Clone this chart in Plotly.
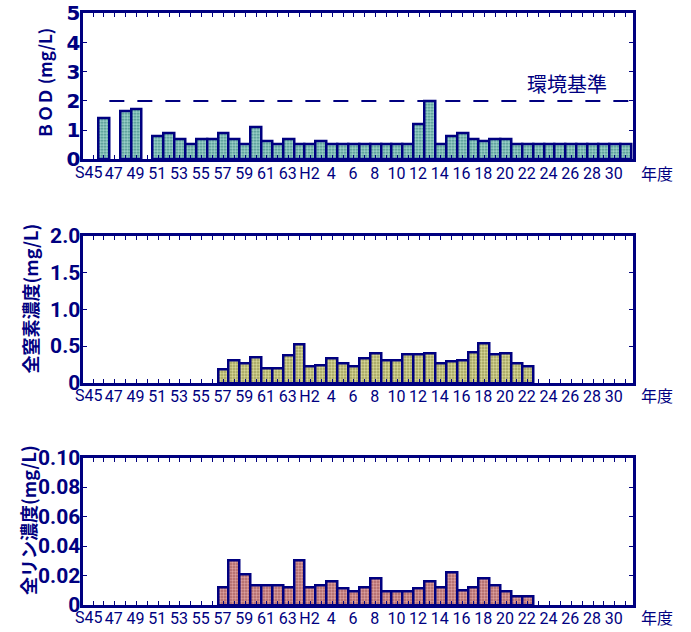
import plotly.graph_objects as go

# ---------------- data ----------------
categories = ["S45", "S46", "S47", "S48", "S49", "S50", "S51", "S52", "S53", "S54",
              "S55", "S56", "S57", "S58", "S59", "S60", "S61", "S62", "S63",
              "H1", "H2", "H3", "H4", "H5", "H6", "H7", "H8", "H9", "H10",
              "H11", "H12", "H13", "H14", "H15", "H16", "H17", "H18", "H19", "H20",
              "H21", "H22", "H23", "H24", "H25", "H26", "H27", "H28", "H29", "H30", "H31"]

first_label = "S45"
tick_text = ["", "", "47", "", "49", "", "51", "", "53", "", "55", "", "57", "", "59", "",
             "61", "", "63", "", "H2", "", "4", "", "6", "", "8", "", "10", "", "12", "",
             "14", "", "16", "", "18", "", "20", "", "22", "", "24", "", "26", "", "28", "",
             "30", ""]

bod = [None, 1.4, None, 1.65, 1.7, None, 0.8, 0.9, 0.7, 0.5,
       0.7, 0.7, 0.9, 0.7, 0.5, 1.1, 0.6, 0.5, 0.7,
       0.5, 0.5, 0.6, 0.5, 0.5, 0.5, 0.5, 0.5, 0.5, 0.5,
       0.5, 1.2, 2.0, 0.5, 0.8, 0.9, 0.7, 0.6, 0.7, 0.7,
       0.5, 0.5, 0.5, 0.5, 0.5, 0.5, 0.5, 0.5, 0.5, 0.5, 0.5]

total_n = [None] * 12 + [0.18, 0.30, 0.27, 0.35, 0.20, 0.20, 0.37,
           0.52, 0.23, 0.24, 0.33, 0.26, 0.23, 0.33, 0.40, 0.31, 0.31,
           0.38, 0.39, 0.40, 0.27, 0.29, 0.30, 0.42, 0.54, 0.38, 0.40,
           0.26, 0.23] + [None] * 9

total_p = [None] * 12 + [0.012, 0.030, 0.021, 0.013, 0.013, 0.013, 0.012,
           0.030, 0.012, 0.013, 0.016, 0.011, 0.009, 0.012, 0.018, 0.009, 0.009,
           0.009, 0.011, 0.016, 0.012, 0.022, 0.010, 0.012, 0.018, 0.013, 0.009,
           0.006, 0.006] + [None] * 9

bod_standard = 2.0

bod_ticks = [0, 1, 2, 3, 4, 5]
bod_ticktext = ["0", "1", "2", "3", "4", "5"]
n_ticks = [0, 0.5, 1.0, 1.5, 2.0]
n_ticktext = ["0", "0.5", "1.0", "1.5", "2.0"]
p_ticks = [0, 0.02, 0.04, 0.06, 0.08, 0.10]
p_ticktext = ["0", "0.02", "0.04", "0.06", "0.08", "0.10"]

# ---------------- style ----------------
W, H = 691, 632
NAVY = "#000080"
x_range = [-0.97, 49.68]


def px_x(x):
    return x / W


def px_y(y):
    return 1 - y / H


xdom = [px_x(82.5), px_x(633)]


def ydom(top, bottom):
    return [px_y(bottom), px_y(top)]


fig = go.Figure()

xfont = dict(family="Roboto", size=16, color=NAVY)
narrow_bold = dict(family="Roboto", size=21, color=NAVY, weight="bold")
panels = [
    dict(y=bod, bg="#a2d6ce", fg="#2f7f7a", yr=[0, 5], tv=bod_ticks, tt=bod_ticktext,
         dom=ydom(13.3, 159.3), label_y=172,
         font=dict(family="DejaVu Sans", size=20, color=NAVY, weight="bold")),
    dict(y=total_n, bg="#dedea0", fg="#7a7a30", yr=[0, 2.0], tv=n_ticks, tt=n_ticktext,
         dom=ydom(235.5, 383), label_y=395, font=narrow_bold),
    dict(y=total_p, bg="#e2a8a8", fg="#8a3a3a", yr=[0, 0.10], tv=p_ticks, tt=p_ticktext,
         dom=ydom(457.5, 605), label_y=617, font=narrow_bold),
]

layout_axes = {}
annotations = []
for i, p in enumerate(panels, start=1):
    sfx = "" if i == 1 else str(i)
    fig.add_trace(go.Bar(
        x=categories, y=p["y"], xaxis="x" + sfx, yaxis="y" + sfx, width=1.0,
        marker=dict(color=p["bg"], line=dict(color=NAVY, width=2.5),
                    pattern=dict(shape=".", fgcolor=p["fg"], bgcolor=p["bg"],
                                 size=3, solidity=0.35, fillmode="replace")),
        showlegend=False, hoverinfo="x+y",
    ))
    layout_axes["xaxis" + sfx] = dict(
        domain=xdom, anchor="y" + sfx, type="category", range=x_range,
        tickmode="array", tickvals=categories, ticktext=tick_text, tickangle=0,
        ticks="inside", ticklen=4, tickwidth=1, tickcolor=NAVY,
        showline=True, linecolor=NAVY, linewidth=3, mirror="ticks",
        showgrid=False, zeroline=False, automargin=False,
        ticklabelstandoff=-3, ticklabelshift=-1, ticklabeloverflow="allow",
        tickfont=xfont,
    )
    layout_axes["yaxis" + sfx] = dict(
        domain=p["dom"], anchor="x" + sfx, range=p["yr"],
        tickmode="array", tickvals=p["tv"], ticktext=p["tt"], tickangle=0,
        ticks="inside", ticklen=4, tickwidth=1, tickcolor=NAVY,
        showline=True, linecolor=NAVY, linewidth=3, mirror="ticks",
        showgrid=False, zeroline=False, automargin=False,
        ticklabelstandoff=-5, ticklabeloverflow="allow", tickfont=p["font"],
    )
    # first year label (placed slightly left, as in the original)
    annotations.append(dict(text=first_label, xref="x" + sfx, x=categories[0], xshift=-5,
                            yref="paper", y=px_y(p["label_y"]), font=xfont,
                            showarrow=False, xanchor="center", yanchor="middle"))

fig.update_layout(**layout_axes)

# environmental standard line
fig.add_shape(type="line", xref="x", yref="y", x0=1.5, x1=x_range[1],
              y0=bod_standard, y1=bod_standard,
              line=dict(color=NAVY, width=2, dash="15px,13px"))

cjk = "Noto Sans CJK JP"
paper_ann = [
    dict(text="環境基準", x=px_x(566.5), y=px_y(83.5), font=dict(family=cjk, size=20, color=NAVY)),
    dict(text="<b>ＢＯＤ (mg/L)</b>", x=px_x(44.5), y=px_y(83.5), textangle=-90,
         font=dict(family=cjk, size=17, color=NAVY)),
    dict(text="<b>全窒素濃度(mg/L)</b>", x=px_x(29), y=px_y(298.5), textangle=-90,
         font=dict(family=cjk, size=18, color=NAVY)),
    dict(text="<b>全リン濃度(mg/L)</b>", x=px_x(28), y=px_y(520), textangle=-90,
         font=dict(family=cjk, size=18, color=NAVY)),
    dict(text="年度", x=px_x(657), y=px_y(173), font=dict(family=cjk, size=16, color=NAVY)),
    dict(text="年度", x=px_x(657), y=px_y(395), font=dict(family=cjk, size=16, color=NAVY)),
    dict(text="年度", x=px_x(657), y=px_y(617), font=dict(family=cjk, size=16, color=NAVY)),
]
for a in paper_ann:
    a.update(xref="paper", yref="paper", showarrow=False, xanchor="center", yanchor="middle")
fig.update_layout(annotations=annotations + paper_ann)

fig.update_layout(
    width=W, height=H, margin=dict(l=0, r=0, t=0, b=0, autoexpand=False),
    paper_bgcolor="white", plot_bgcolor="white",
    bargap=0, showlegend=False,
)

fig.write_html("out.html", config={"displayModeBar": False},
               post_script="document.body.style.margin='0';document.body.style.overflow='hidden';")
